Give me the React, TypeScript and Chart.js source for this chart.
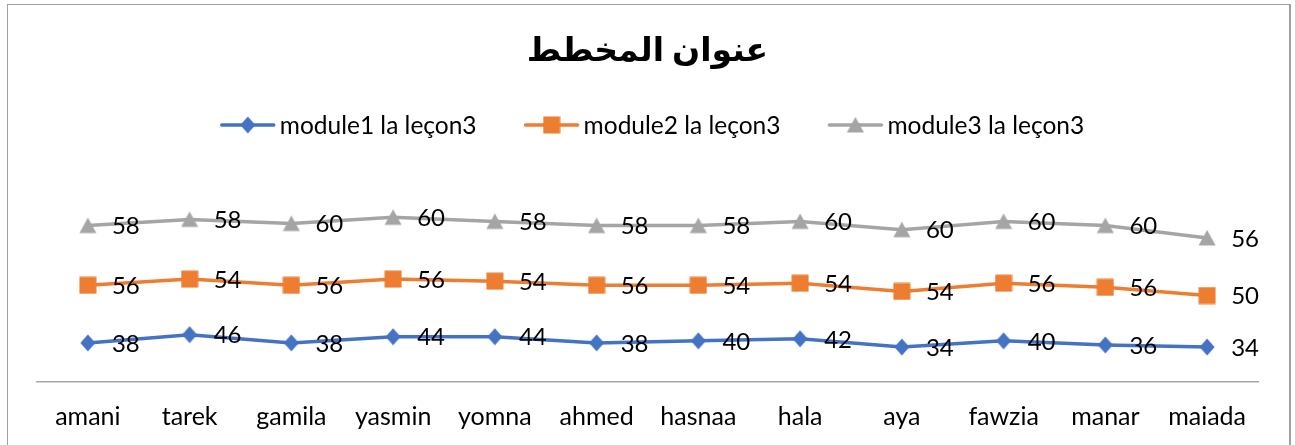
import React, { useEffect, useRef } from "react";
import { Chart, registerables } from "chart.js";

Chart.register(...registerables);

const categories = ["amani", "tarek", "gamila", "yasmin", "yomna", "ahmed", "hasnaa", "hala", "aya", "fawzia", "manar", "maiada"];
const module1 = [38, 46, 38, 44, 44, 38, 40, 42, 34, 40, 36, 34];
const module2 = [56, 54, 56, 56, 54, 56, 54, 54, 54, 56, 56, 50];
const module3 = [58, 58, 60, 60, 58, 58, 58, 60, 60, 60, 60, 56];
const seriesNames = ["module1 la leçon3", "module2 la leçon3", "module3 la leçon3"];
const seriesColors = ["#4472C4", "#ED7D31", "#A5A5A5"];
const seriesMarkers = ["diamond", "square", "triangle"];
const chartTitle = "عنوان المخطط";

const FONT = "Lato, 'DejaVu Sans', sans-serif";

function makeMarker(kind: string, color: string): HTMLCanvasElement {
  const c = document.createElement("canvas");
  c.width = 18;
  c.height = 18;
  const ctx = c.getContext("2d")!;
  ctx.fillStyle = color;
  ctx.beginPath();
  if (kind === "diamond") {
    ctx.moveTo(9, 0.5);
    ctx.lineTo(16.5, 9);
    ctx.lineTo(9, 17.5);
    ctx.lineTo(1.5, 9);
  } else if (kind === "square") {
    ctx.rect(0.5, 0.5, 17, 17);
  } else {
    ctx.moveTo(9, 1);
    ctx.lineTo(17.5, 16.5);
    ctx.lineTo(0.5, 16.5);
  }
  ctx.closePath();
  ctx.fill();
  return c;
}

export default function App() {
  const ref = useRef<HTMLCanvasElement | null>(null);

  useEffect(() => {
    if (!ref.current) return;
    const values = [module1, module2, module3];
    const markers = seriesMarkers.map((m, i) => makeMarker(m, seriesColors[i]));

    const labelPlugin = {
      id: "valueLabels",
      afterDatasetsDraw(chart: any) {
        const ctx = chart.ctx;
        ctx.save();
        ctx.font = `24px ${FONT}`;
        ctx.fillStyle = "#000";
        ctx.textAlign = "left";
        ctx.textBaseline = "middle";
        chart.data.datasets.forEach((ds: any, di: number) => {
          const meta = chart.getDatasetMeta(di);
          meta.data.forEach((pt: any, i: number) => {
            ctx.fillText(String(values[di][i]), pt.x + 24, pt.y + 1);
          });
        });
        ctx.restore();
      },
    };

    const legendPlugin = {
      id: "customLegend",
      afterDraw(chart: any) {
        const ctx = chart.ctx;
        ctx.save();
        ctx.font = `24.5px ${FONT}`;
        ctx.textBaseline = "middle";
        ctx.textAlign = "left";
        const lineW = 54;
        const gap = 5;
        const spacing = 48;
        const widths = seriesNames.map((n) => lineW + gap + ctx.measureText(n).width);
        const total = widths.reduce((a, b) => a + b, 0) + spacing * (widths.length - 1);
        let x = chart.width / 2 + 4 - total / 2;
        const y = 120;
        seriesNames.forEach((n, i) => {
          ctx.strokeStyle = seriesColors[i];
          ctx.lineWidth = 3.5;
          ctx.lineCap = "round";
          ctx.beginPath();
          ctx.moveTo(x + 1, y);
          ctx.lineTo(x + lineW - 1, y);
          ctx.stroke();
          const m = markers[i];
          ctx.drawImage(m, x + lineW / 2 - m.width / 2, y - m.height / 2);
          ctx.fillStyle = "#000";
          ctx.fillText(n, x + lineW + gap, y + 1);
          x += widths[i] + spacing;
        });
        ctx.restore();
      },
    };

    const chart = new Chart(ref.current, {
      type: "line",
      data: {
        labels: categories,
        datasets: values.map((v, i) => ({
          label: seriesNames[i],
          data: v,
          borderColor: seriesColors[i],
          backgroundColor: seriesColors[i],
          borderWidth: 3.5,
          pointStyle: markers[i],
          pointRadius: 8,
          pointHoverRadius: 8,
          tension: 0,
          fill: false,
        })),
      },
      options: {
        animation: false,
        responsive: false,
        maintainAspectRatio: false,
        layout: { padding: { left: 29, right: 31, top: 0, bottom: 3 } },
        plugins: {
          legend: { display: false },
          tooltip: { enabled: false },
          title: {
            display: true,
            text: chartTitle,
            color: "#000",
            font: { family: FONT, size: 33, weight: "bold", lineHeight: 1.2 },
            padding: { top: 26, bottom: 85 },
          },
        },
        scales: {
          x: {
            offset: true,
            grid: { display: false, drawTicks: false },
            border: { display: true, color: "#a6a6a6", width: 1.5 },
            ticks: {
              color: "#000",
              font: { family: FONT, size: 25, lineHeight: 1.2 },
              padding: 20,
              maxRotation: 0,
              autoSkip: false,
            },
          },
          y: {
            display: false,
            stacked: true,
            min: 0,
            max: 220,
          },
        },
      },
      plugins: [labelPlugin, legendPlugin],
    });
    return () => chart.destroy();
  }, []);

  return (
    <div
      style={{
        position: "fixed",
        left: 7,
        top: 4,
        width: 1281,
        height: 450,
        border: "1px solid #a0a0a0",
        borderRightWidth: 2,
        background: "#fff",
      }}
    >
      <canvas ref={ref} width={1281} height={450} style={{ display: "block", width: 1281, height: 450 }} />
    </div>
  );
}
